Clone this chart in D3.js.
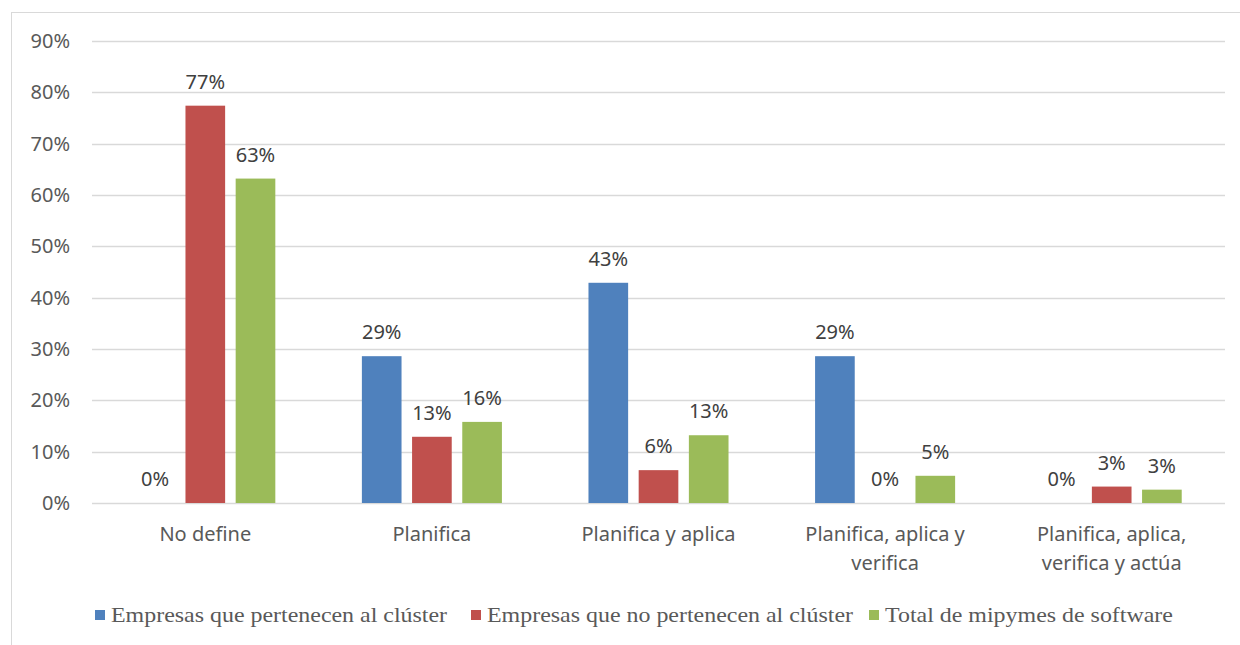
<!DOCTYPE html>
<html>
<head>
<meta charset="utf-8">
<script src="https://cdn.jsdelivr.net/npm/d3@7"></script>
<style>
  html, body { margin: 0; padding: 0; background: #fff; }
  svg { display: block; }
</style>
</head>
<body>
<svg id="chart" width="1240" height="645"></svg>
<script>
// Categories (x axis) and series
const categories = [
  ["No define"],
  ["Planifica"],
  ["Planifica y aplica"],
  ["Planifica, aplica y", "verifica"],
  ["Planifica, aplica,", "verifica y actúa"]
];
const seriesNames = [
  "Empresas que pertenecen al clúster",
  "Empresas que no pertenecen al clúster",
  "Total de mipymes de software"
];
const seriesColors = ["#4f81bd", "#c0504d", "#9bbb59"];

const clusterValues    = [0.000, 0.286, 0.429, 0.286, 0.000];
const nonClusterValues = [0.774, 0.129, 0.064, 0.000, 0.032];
const totalValues      = [0.632, 0.158, 0.132, 0.053, 0.026];

const yTicks = [0, 0.1, 0.2, 0.3, 0.4, 0.5, 0.6, 0.7, 0.8, 0.9];

const allSeries = [clusterValues, nonClusterValues, totalValues];
const catKeys = categories.map(c => c.join(" "));

const svg = d3.select("#chart");

// outer chart border
svg.append("rect")
  .attr("x", 11.5).attr("y", 12.5)
  .attr("width", 1240).attr("height", 640)
  .attr("fill", "none").attr("stroke", "#d9d9d9").attr("stroke-width", 1);

const plot = { left: 92, right: 1225, top: 41, bottom: 503 };

const y = d3.scaleLinear().domain([0, 0.9]).range([plot.bottom, plot.top]);
const x0 = d3.scaleBand().domain(catKeys).range([plot.left, plot.right])
  .paddingInner(0.382).paddingOuter(0.191);
const x1 = d3.scaleBand().domain(d3.range(3)).range([0, x0.bandwidth()])
  .paddingInner(0.21).paddingOuter(0);

const fmt = d3.format(".0%");
const sansFont = "'Noto Sans', 'Open Sans', sans-serif";

// gridlines
svg.append("g")
  .selectAll("line")
  .data(yTicks)
  .join("line")
  .attr("x1", plot.left).attr("x2", plot.right)
  .attr("y1", d => Math.round(y(d)) + 0.5).attr("y2", d => Math.round(y(d)) + 0.5)
  .attr("stroke", "#d9d9d9").attr("stroke-width", 1.3);

// y axis labels
const yAxis = d3.axisLeft(y).tickValues(yTicks).tickFormat(fmt).tickSize(0).tickPadding(0);
const yg = svg.append("g").attr("transform", `translate(70,0)`).call(yAxis);
yg.select(".domain").remove();
yg.selectAll("text")
  .attr("font-family", sansFont).attr("font-size", 20).attr("fill", "#595959");

// bars
const groups = svg.append("g")
  .selectAll("g")
  .data(catKeys)
  .join("g")
  .attr("transform", d => `translate(${x0(d)},0)`);

groups.each(function(cat, ci) {
  const g = d3.select(this);
  const vals = allSeries.map(s => s[ci]);
  g.selectAll("rect")
    .data(vals)
    .join("rect")
    .attr("x", (d, si) => x1(si))
    .attr("width", x1.bandwidth())
    .attr("y", d => y(d))
    .attr("height", d => y(0) - y(d))
    .attr("fill", (d, si) => seriesColors[si]);
  g.selectAll("text.val")
    .data(vals)
    .join("text")
    .attr("class", "val")
    .attr("x", (d, si) => x1(si) + x1.bandwidth() / 2)
    .attr("y", d => y(d) - 17)
    .attr("text-anchor", "middle")
    .attr("font-family", sansFont).attr("font-size", 20).attr("fill", "#404040")
    .text(d => fmt(d));
});

// category labels
const catG = svg.append("g");
categories.forEach((lines, i) => {
  const cx = x0(catKeys[i]) + x0.bandwidth() / 2;
  const t = catG.append("text")
    .attr("x", cx)
    .attr("y", 541)
    .attr("text-anchor", "middle")
    .attr("font-family", sansFont).attr("font-size", 20).attr("fill", "#595959");
  lines.forEach((ln, li) => {
    t.append("tspan")
      .attr("x", cx)
      .attr("dy", li === 0 ? 0 : 29)
      .text(ln);
  });
});

// legend
const legendX = [95, 471, 869];
const legend = svg.append("g");
seriesNames.forEach((name, i) => {
  legend.append("rect")
    .attr("x", legendX[i]).attr("y", 610)
    .attr("width", 10).attr("height", 10)
    .attr("fill", seriesColors[i]);
  legend.append("text")
    .attr("transform", `translate(${legendX[i] + 16},622) scale(1.14,1)`)
    .attr("font-family", "'Liberation Serif', 'Times New Roman', serif")
    .attr("font-size", 21).attr("fill", "#595959")
    .text(name);
});
</script>
</body>
</html>
